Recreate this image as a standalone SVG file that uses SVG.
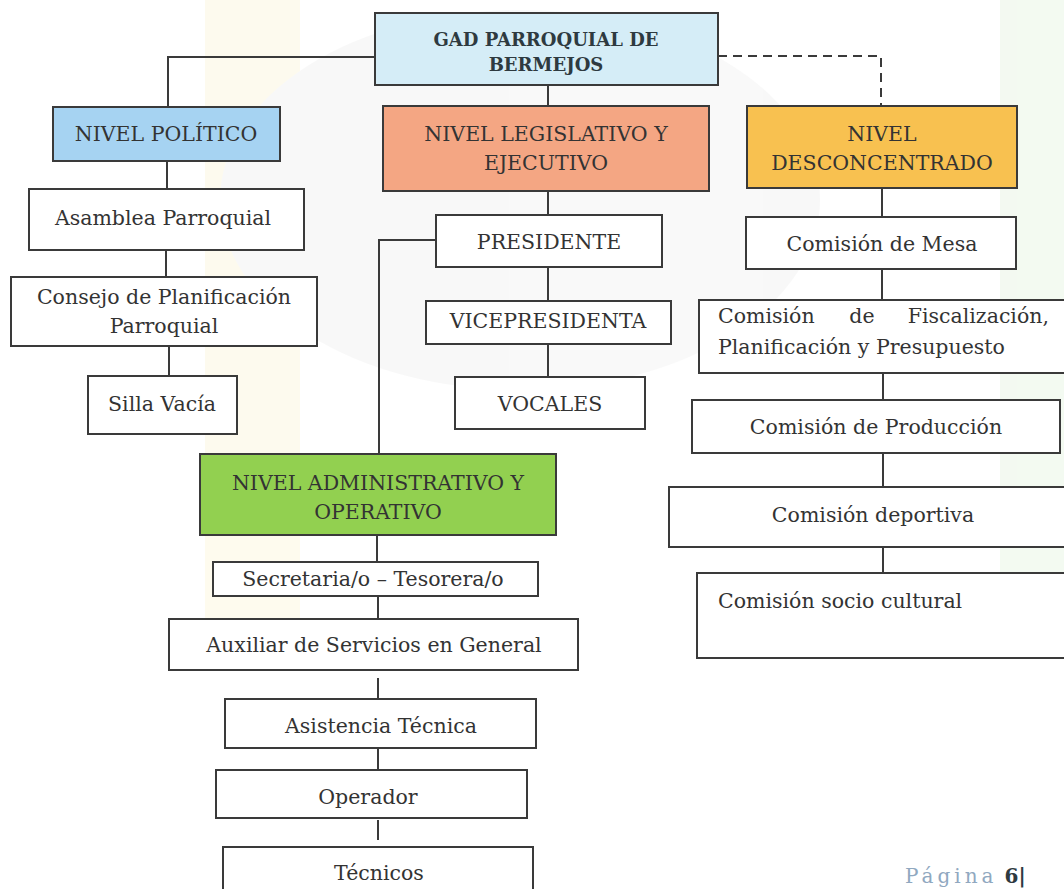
<svg xmlns="http://www.w3.org/2000/svg" width="1064" height="889" viewBox="0 0 1064 889">
<style>
.box{stroke:#3a3a3a;stroke-width:2;fill:#ffffff}
.t{font-family:"DejaVu Serif","Liberation Serif",serif;font-size:20.5px;fill:#333;text-anchor:middle}
.tb{font-family:"DejaVu Serif","Liberation Serif",serif;font-size:18px;font-weight:bold;fill:#2e3a40;text-anchor:middle}
.tl{font-family:"DejaVu Serif","Liberation Serif",serif;font-size:20.5px;fill:#333}
.c{stroke:#3a3a3a;stroke-width:2;fill:none}
.d{stroke:#3a3a3a;stroke-width:2;fill:none;stroke-dasharray:9,6}
</style>
<rect width="1064" height="889" fill="#ffffff"/>
<g id="watermark" opacity="0.5">
<rect x="205" y="0" width="95" height="640" fill="#fdf7de"/>
<rect x="1000" y="0" width="64" height="650" fill="#e8f5e4"/>
<ellipse cx="520" cy="200" rx="300" ry="190" fill="#f3f3f3"/>
</g>
<g id="connectors">
<polyline class="c" points="375,57 168,57 168,107"/>
<line class="c" x1="548" y1="85" x2="548" y2="106"/>
<polyline class="d" points="718,56 881,56 881,106"/>
<line class="c" x1="167" y1="161" x2="167" y2="189"/>
<line class="c" x1="166" y1="250" x2="166" y2="277"/>
<line class="c" x1="169" y1="346" x2="169" y2="376"/>
<line class="c" x1="548" y1="191" x2="548" y2="215"/>
<polyline class="c" points="436,240 379,240 379,454"/>
<line class="c" x1="548" y1="267" x2="548" y2="301"/>
<line class="c" x1="548" y1="344" x2="548" y2="377"/>
<line class="c" x1="882" y1="188" x2="882" y2="217"/>
<line class="c" x1="882" y1="269" x2="882" y2="300"/>
<line class="c" x1="883" y1="373" x2="883" y2="400"/>
<line class="c" x1="883" y1="453" x2="883" y2="487"/>
<line class="c" x1="883" y1="547" x2="883" y2="573"/>
<line class="c" x1="377" y1="535" x2="377" y2="562"/>
<line class="c" x1="378" y1="596" x2="378" y2="619"/>
<line class="c" x1="378" y1="678" x2="378" y2="699"/>
<line class="c" x1="378" y1="748" x2="378" y2="770"/>
<line class="c" x1="378" y1="820" x2="378" y2="840"/>
</g>
<g id="gad">
<rect class="box" x="375" y="13" width="343" height="72" style="fill:#d5edf7"/>
<text class="tb" x="546" y="46">GAD PARROQUIAL DE</text>
<text class="tb" x="546" y="71">BERMEJOS</text>
</g>
<g id="nivel-politico">
<rect class="box" x="53" y="107" width="227" height="54" style="fill:#a6d3f2"/>
<text class="t" x="166" y="141">NIVEL POLÍTICO</text>
</g>
<g id="nivel-legislativo">
<rect class="box" x="383" y="106" width="326" height="85" style="fill:#f4a683"/>
<text class="t" x="546" y="141">NIVEL LEGISLATIVO Y</text>
<text class="t" x="546" y="170">EJECUTIVO</text>
</g>
<g id="nivel-desconcentrado">
<rect class="box" x="747" y="106" width="270" height="82" style="fill:#f8c150"/>
<text class="t" x="882" y="141">NIVEL</text>
<text class="t" x="882" y="170">DESCONCENTRADO</text>
</g>
<g id="asamblea">
<rect class="box" x="29" y="189" width="275" height="61"/>
<text class="t" x="163" y="225">Asamblea Parroquial</text>
</g>
<g id="consejo">
<rect class="box" x="11" y="277" width="306" height="69"/>
<text class="t" x="164" y="304">Consejo de Planificación</text>
<text class="t" x="164" y="333">Parroquial</text>
</g>
<g id="silla">
<rect class="box" x="88" y="376" width="149" height="58"/>
<text class="t" x="162" y="411">Silla Vacía</text>
</g>
<g id="presidente">
<rect class="box" x="436" y="215" width="226" height="52"/>
<text class="t" x="549" y="249">PRESIDENTE</text>
</g>
<g id="vicepresidenta">
<rect class="box" x="426" y="301" width="245" height="43"/>
<text class="t" x="548" y="328">VICEPRESIDENTA</text>
</g>
<g id="vocales">
<rect class="box" x="455" y="377" width="190" height="52"/>
<text class="t" x="550" y="411">VOCALES</text>
</g>
<g id="nivel-administrativo">
<rect class="box" x="200" y="454" width="356" height="81" style="fill:#92d050"/>
<text class="t" x="378" y="490">NIVEL ADMINISTRATIVO Y</text>
<text class="t" x="378" y="519">OPERATIVO</text>
</g>
<g id="secretaria">
<rect class="box" x="213" y="562" width="325" height="34"/>
<text class="t" x="373" y="586">Secretaria/o – Tesorera/o</text>
</g>
<g id="auxiliar">
<rect class="box" x="169" y="619" width="409" height="51"/>
<text class="t" x="374" y="652">Auxiliar de Servicios en General</text>
</g>
<g id="asistencia">
<rect class="box" x="225" y="699" width="311" height="49"/>
<text class="t" x="381" y="733">Asistencia Técnica</text>
</g>
<g id="operador">
<rect class="box" x="216" y="770" width="311" height="48"/>
<text class="t" x="368" y="804">Operador</text>
</g>
<g id="tecnicos">
<rect class="box" x="223" y="847" width="310" height="60"/>
<text class="t" x="379" y="880">Técnicos</text>
</g>
<g id="comision-mesa">
<rect class="box" x="746" y="217" width="270" height="52"/>
<text class="t" x="882" y="251">Comisión de Mesa</text>
</g>
<g id="comision-fiscalizacion">
<rect class="box" x="699" y="300" width="375" height="73"/>
<text class="tl" x="718" y="323">Comisión</text>
<text class="t" x="862" y="323">de</text>
<text class="tl" x="1049" y="323" style="text-anchor:end">Fiscalización,</text>
<text class="tl" x="718" y="354">Planificación y Presupuesto</text>
</g>
<g id="comision-produccion">
<rect class="box" x="692" y="400" width="368" height="53"/>
<text class="t" x="876" y="434">Comisión de Producción</text>
</g>
<g id="comision-deportiva">
<rect class="box" x="669" y="487" width="405" height="60"/>
<text class="t" x="873" y="522">Comisión deportiva</text>
</g>
<g id="comision-socio">
<rect class="box" x="697" y="573" width="377" height="85"/>
<text class="tl" x="718" y="608">Comisión socio cultural</text>
</g>
<g id="pagina">
<text x="905" y="883" style="font-family:'DejaVu Serif','Liberation Serif',serif;font-size:20px;fill:#90a8c0;letter-spacing:4px">Página<tspan style="fill:#2e3a40;font-weight:bold;letter-spacing:0px"> 6|</tspan></text>
</g>
</svg>
